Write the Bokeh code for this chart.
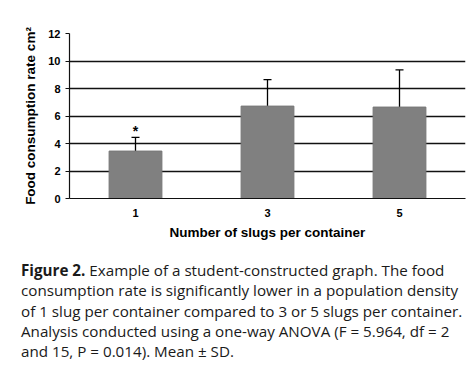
from bokeh.plotting import figure
from bokeh.models import ColumnDataSource, Whisker, TeeHead, Div
from bokeh.layouts import column
from bokeh.core.properties import value
from bokeh.embed import file_html
from bokeh.resources import INLINE

categories = ["1", "3", "5"]
means = [3.45, 6.72, 6.65]
sds = [1.0, 1.93, 2.7]
y_ticks = [0, 2, 4, 6, 8, 10, 12]
marks = ["*", "", ""]

upper = [m + s for m, s in zip(means, sds)]
lower = [m - s for m, s in zip(means, sds)]
src = ColumnDataSource(dict(x=categories, top=means, upper=upper, lower=lower, mark=marks))

p = figure(x_range=categories, y_range=(0, 12), width=466, height=253,
           output_backend="svg", toolbar_location=None,
           min_border_left=69, min_border_right=1, min_border_top=33, min_border_bottom=55)
p.outline_line_color = None
p.background_fill_color = "white"

p.vbar(x="x", top="top", width=0.4, source=src, fill_color="#808080", line_color="#777777")

w = Whisker(base="x", upper="upper", lower="lower", source=src, line_color="black", line_width=1.3,
            upper_head=TeeHead(size=8, line_color="black", line_width=1.3),
            lower_head=TeeHead(size=8, line_color="black", line_width=1.3))
p.add_layout(w)

p.text(x="x", y="upper", text="mark", source=src, text_font=value("Liberation Sans"),
       text_font_style="bold", text_font_size="14px", text_align="center",
       text_baseline="bottom", y_offset=2, text_color="black")

p.yaxis.ticker = y_ticks
p.ygrid.grid_line_color = "#111111"
p.ygrid.grid_line_width = 1.4
p.xgrid.grid_line_color = None

for ax in (p.xaxis[0], p.yaxis[0]):
    ax.major_label_text_font = "Liberation Sans"
    ax.major_label_text_font_style = "bold"
    ax.major_label_text_font_size = "11px"
    ax.major_label_text_color = "black"
    ax.axis_label_text_font = "Liberation Sans"
    ax.axis_label_text_font_style = "bold"
    ax.axis_label_text_font_size = "13.5px"
    ax.axis_label_text_color = "black"
    ax.minor_tick_line_color = None
    ax.axis_line_color = "#111111"
    ax.axis_line_width = 1.2

p.yaxis.major_tick_line_color = "#111111"
p.yaxis.major_tick_out = 4
p.yaxis.major_tick_in = 0
p.xaxis.major_tick_line_color = None
p.xaxis.major_label_standoff = 4
p.yaxis.major_label_standoff = 5
p.xaxis.axis_label = "Number of slugs per container"
p.yaxis.axis_label = "Food consumption rate cm\u00b2"
p.xaxis.axis_label_standoff = 5
p.yaxis.axis_label_standoff = 7

caption_html = ("<b style='font-family:\"Open Sans\";font-weight:700'>Figure 2.</b> Example of a student-constructed graph. The food<br>"
                "consumption rate is significantly lower in a population density<br>"
                "of 1 slug per container compared to 3 or 5 slugs per container.<br>"
                "Analysis conducted using a one-way ANOVA (F = 5.964, df = 2<br>"
                "and 15, P = 0.014). Mean \u00b1 SD.")

div = Div(text=caption_html, width=466, height=110,
          styles={"font-family": "Open Sans", "font-size": "15.2px", "line-height": "20.3px",
                  "color": "#1a1a1a", "white-space": "nowrap", "padding-left": "16px",
                  "margin-top": "7px"})

layout = column(p, div, spacing=0)
open("out.html", "w").write(file_html(layout, INLINE))
